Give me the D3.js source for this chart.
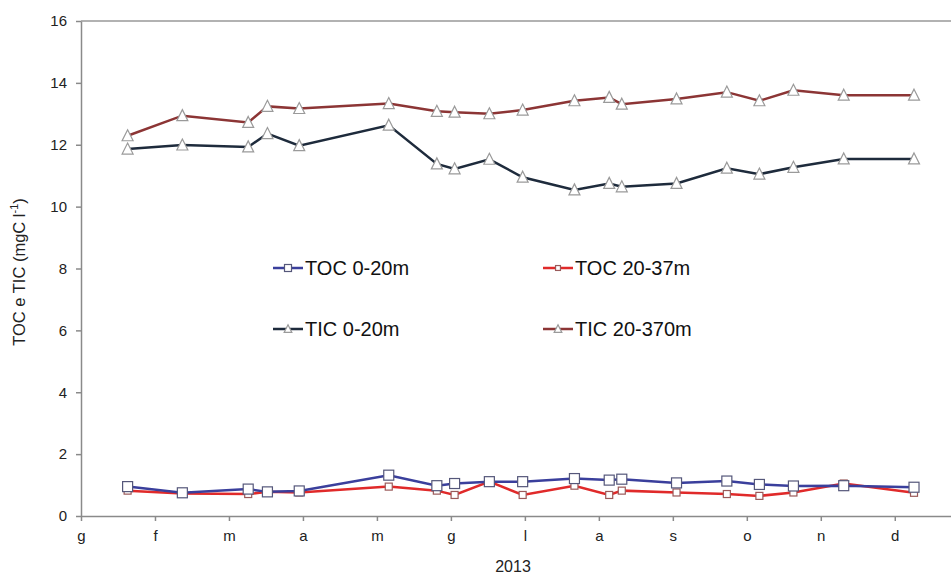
<!DOCTYPE html>
<meta charset="utf-8">
<style>
body { margin: 0; background: #fff; }
svg { font-family: "Liberation Sans", Arial, sans-serif; }
.axis path, .axis line { stroke: #8a8a8a; }
.axis text { font-size: 15px; fill: #222; }
</style>
<svg width="951" height="574"></svg>
<script src="https://cdn.jsdelivr.net/npm/d3@7"></script>
<script>

// sampling dates, in months from 1 January 2013
var months = [0.63, 1.37, 2.26, 2.52, 2.95, 4.16, 4.81, 5.05, 5.52, 5.97,
              6.67, 7.14, 7.31, 8.05, 8.73, 9.17, 9.63, 10.31, 11.26];

var tocTop = [0.95, 0.75, 0.87, 0.78, 0.81, 1.32, 0.98, 1.05, 1.11, 1.11,
              1.21, 1.16, 1.19, 1.07, 1.13, 1.02, 0.97, 0.98, 0.93];
var tocDeep = [0.82, 0.73, 0.71, 0.78, 0.76, 0.95, 0.82, 0.68, 1.11, 0.68,
               0.98, 0.68, 0.82, 0.76, 0.71, 0.65, 0.76, 1.05, 0.75];
var ticTop = [11.86, 11.99, 11.93, 12.36, 11.97, 12.63, 11.38, 11.22, 11.53, 10.95,
              10.54, 10.75, 10.64, 10.75, 11.24, 11.05, 11.27, 11.54, 11.54];
var ticDeep = [12.29, 12.94, 12.72, 13.24, 13.17, 13.33, 13.08, 13.05, 13.0, 13.12,
               13.42, 13.53, 13.31, 13.48, 13.70, 13.42, 13.76, 13.60, 13.60];

var monthLabels = ["g", "f", "m", "a", "m", "g", "l", "a", "s", "o", "n", "d"];
var yTicks = [0, 2, 4, 6, 8, 10, 12, 14, 16];

var series = [
  {name: "TOC 0-20m", values: tocTop, color: "#3a3f9c", marker: "square", size: 10, mstroke: "#55577a"},
  {name: "TOC 20-37m", values: tocDeep, color: "#e02a2a", marker: "square", size: 7, mstroke: "#9a5a5a"},
  {name: "TIC 0-20m", values: ticTop, color: "#1e2b3c", marker: "triangle", size: 11, mstroke: "#9a9a9a"},
  {name: "TIC 20-370m", values: ticDeep, color: "#8c3535", marker: "triangle", size: 11, mstroke: "#9a9a9a"}
];

var svg = d3.select("svg"),
    width = +svg.attr("width"),
    height = +svg.attr("height");

var x = d3.scaleLinear()
    .domain([0, 11.76])
    .range([81, 951]);

var y = d3.scaleLinear()
    .domain([0, 16])
    .range([516, 21]);

// top border line
svg.append("line")
    .attr("x1", x(0)).attr("x2", width)
    .attr("y1", y(16)).attr("y2", y(16))
    .attr("stroke", "#999").attr("stroke-width", 1.5);

svg.append("g")
    .attr("class", "axis")
    .attr("transform", "translate(0," + y(0) + ")")
    .call(d3.axisBottom(x)
      .tickValues(d3.range(monthLabels.length))
      .tickFormat(function(d) { return monthLabels[d]; })
      .tickSize(5).tickSizeOuter(0).tickPadding(9))
    .call(function(g) { g.selectAll("path, line").attr("stroke-width", 1.5); });

svg.append("g")
    .attr("class", "axis")
    .attr("transform", "translate(" + x(0) + ",0)")
    .call(d3.axisLeft(y)
      .tickValues(yTicks)
      .tickSize(5).tickSizeOuter(0).tickPadding(9))
    .call(function(g) { g.selectAll("path, line").attr("stroke-width", 1.5); });

// axis titles
var ylab = svg.append("text")
    .attr("transform", "translate(25,272) rotate(-90)")
    .attr("text-anchor", "middle")
    .attr("font-size", 16.5)
    .attr("fill", "#222");
ylab.append("tspan").text("TOC e TIC  (mgC l");
ylab.append("tspan").attr("font-size", 11).attr("dy", -7).text("-1");
ylab.append("tspan").attr("dy", 7).text(")");

svg.append("text")
    .attr("x", 513).attr("y", 572)
    .attr("text-anchor", "middle")
    .attr("font-size", 16)
    .attr("fill", "#222")
    .text("2013");

var line = d3.line()
    .x(function(d) { return x(d[0]); })
    .y(function(d) { return y(d[1]); });

function drawMarker(sel, s) {
  if (s.marker === "square") {
    sel.append("rect")
        .attr("x", -s.size / 2).attr("y", -s.size / 2)
        .attr("width", s.size).attr("height", s.size)
        .attr("fill", "#fff").attr("stroke", s.mstroke).attr("stroke-width", 1.2);
  } else {
    var h = s.size;
    sel.append("path")
        .attr("d", "M0," + (-h * 0.55) + "L" + (h / 2) + "," + (h * 0.45) + "L" + (-h / 2) + "," + (h * 0.45) + "Z")
        .attr("fill", "#fff").attr("stroke", s.mstroke).attr("stroke-width", 1.2);
  }
}

// draw TIC first, then TOC (red under blue)
[3, 2, 1, 0].forEach(function(i) {
  var s = series[i];
  var pts = months.map(function(m, j) { return [m, s.values[j]]; });
  svg.append("path")
      .datum(pts)
      .attr("fill", "none")
      .attr("stroke", s.color)
      .attr("stroke-width", 2.5)
      .attr("d", line);
  svg.append("g").selectAll("g")
    .data(pts)
    .enter().append("g")
      .attr("transform", function(d) { return "translate(" + x(d[0]) + "," + y(d[1]) + ")"; })
      .each(function() { drawMarker(d3.select(this), s); });
});

// legend
var legendPos = [[273, 268], [543, 268], [273, 329], [543, 329]];
series.forEach(function(s, i) {
  var g = svg.append("g")
      .attr("transform", "translate(" + legendPos[i][0] + "," + legendPos[i][1] + ")");
  g.append("line")
      .attr("x1", 0).attr("x2", 30)
      .attr("stroke", s.color).attr("stroke-width", 2.5);
  var m = g.append("g").attr("transform", "translate(15,0)");
  drawMarker(m, {marker: s.marker, size: s.size * 0.7, mstroke: s.mstroke});
  g.append("text")
      .attr("x", 32).attr("y", 0)
      .attr("dy", "0.35em")
      .attr("font-size", 20)
      .attr("fill", "#111")
      .text(s.name);
});

</script>
